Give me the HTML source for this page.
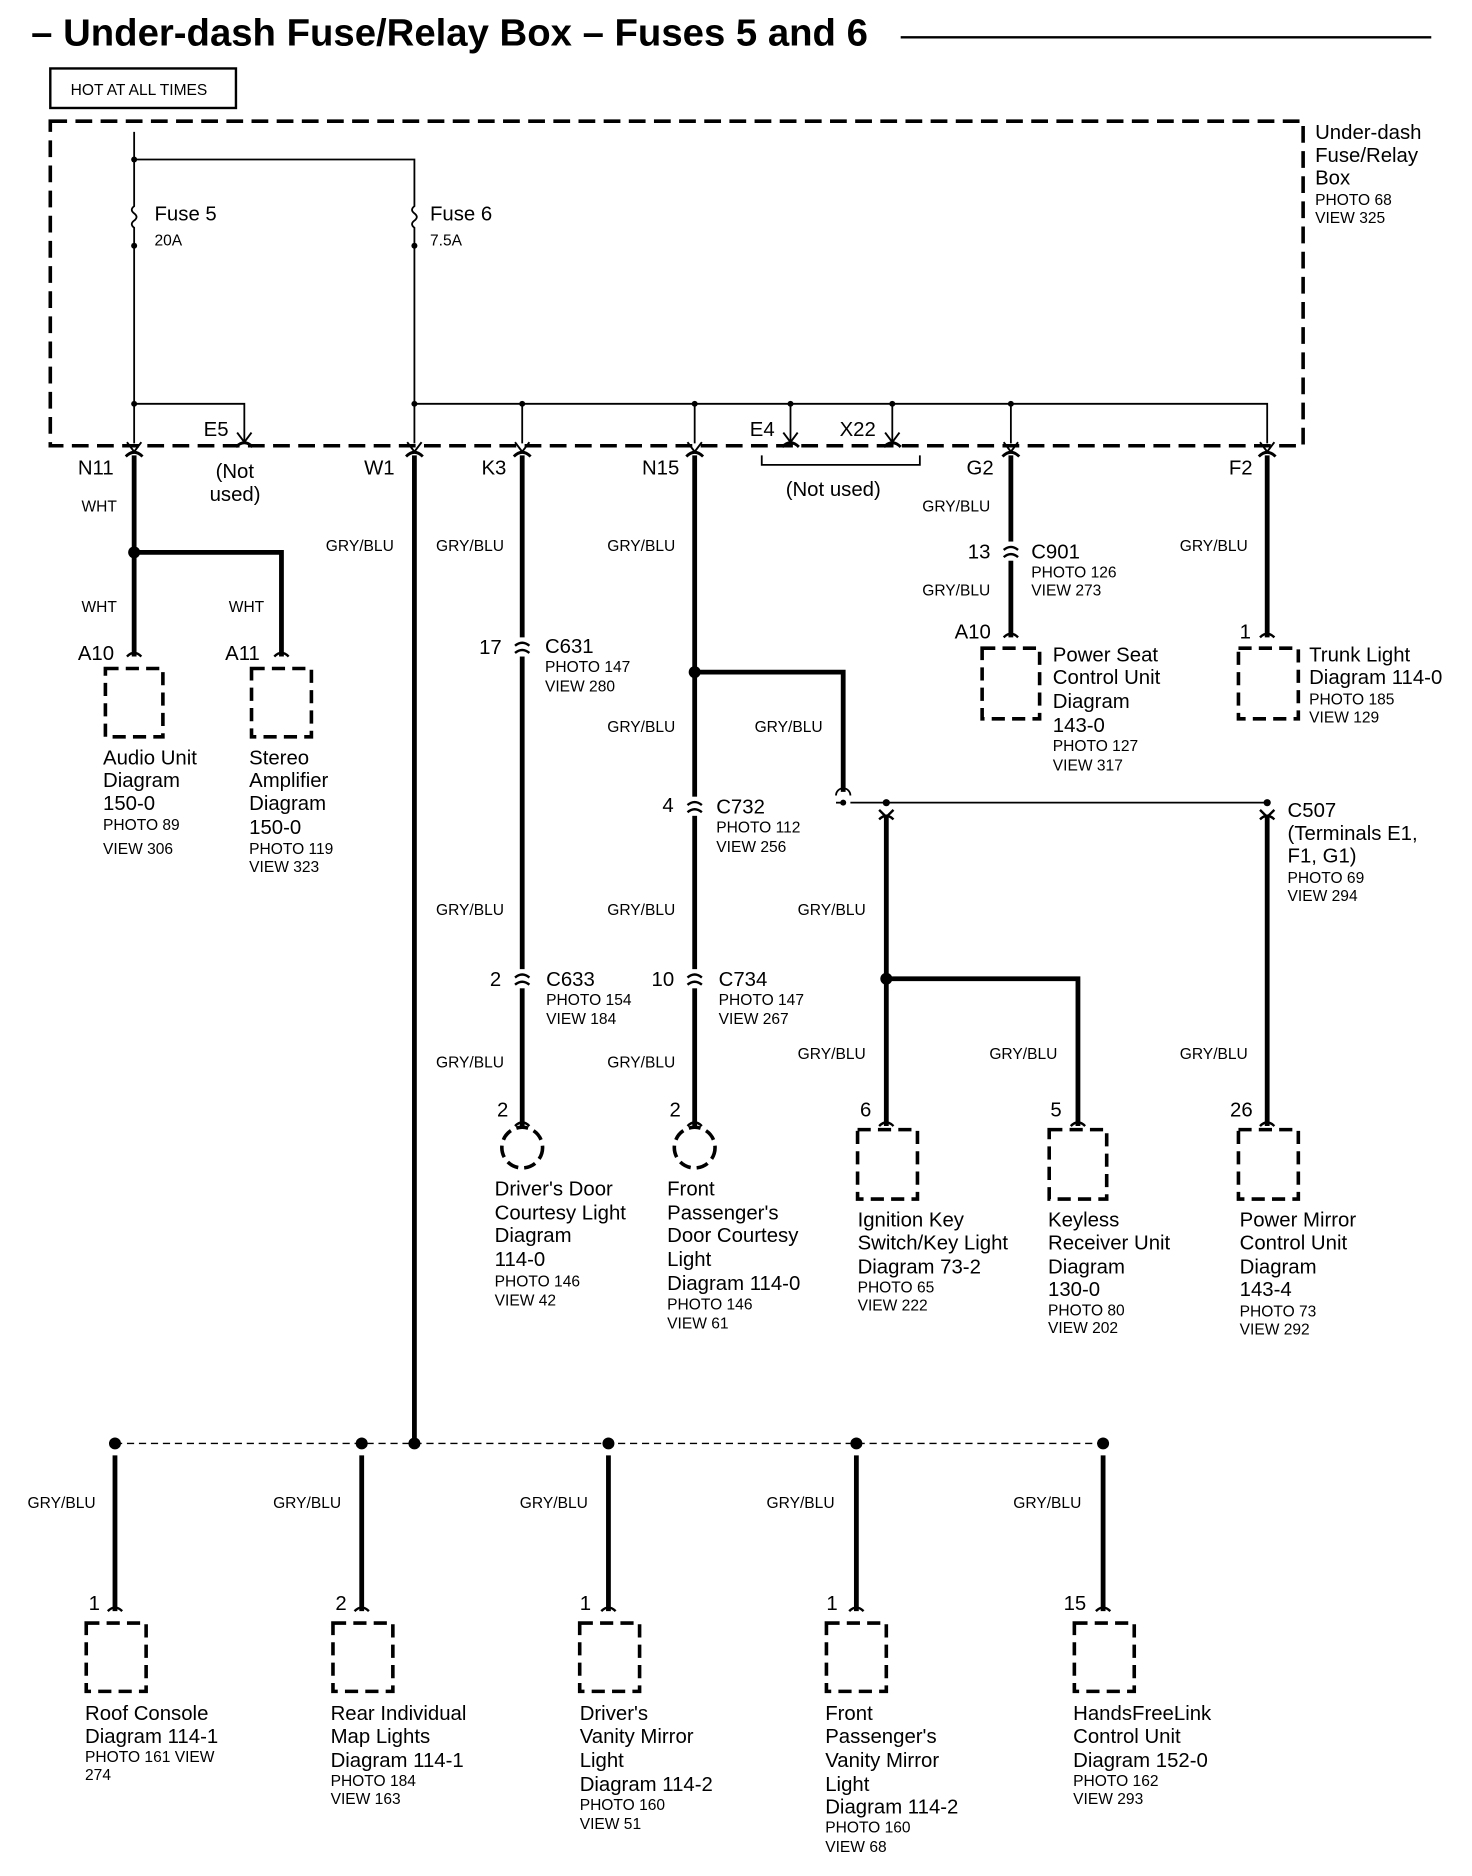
<!DOCTYPE html>
<html><head><meta charset="utf-8"><style>
html,body{margin:0;padding:0;background:#fff;}
svg{display:block}
text{font-family:"Liberation Sans",Arial,sans-serif;fill:#000}
.l{font-size:17px}
.s{font-size:13px}
.w{font-size:13px}
</style></head><body>
<svg width="1472" height="1876" viewBox="0 0 1229 1566" xmlns="http://www.w3.org/2000/svg">
<defs>
<g id="conn"><path d="M-6,-4 Q0,-9 6,-4 M-6,2 Q0,-3 6,2" fill="none" stroke="#000" stroke-width="2"/></g>
<g id="arr"><path d="M-6,-6 L0,2 L6,-6" fill="none" stroke="#000" stroke-width="1.6"/><path d="M-7,6 Q0,-1 7,6" fill="none" stroke="#000" stroke-width="2.4"/></g>
</defs>
<text x="26" y="38" style="font-size:32px;font-weight:bold">– Under-dash Fuse/Relay Box – Fuses 5 and 6</text>
<line x1="752" y1="31" x2="1195" y2="31" stroke="#000" stroke-width="2"/>
<rect x="42" y="57" width="155" height="33" fill="none" stroke="#000" stroke-width="2"/>
<text x="59" y="79" class="s">HOT AT ALL TIMES</text>
<rect x="42" y="101" width="1046" height="271" fill="none" stroke="#000" stroke-width="3" stroke-dasharray="14,7"/>
<text x="1098" y="116" class="l">Under-dash</text>
<text x="1098" y="135" class="l">Fuse/Relay</text>
<text x="1098" y="154" class="l">Box</text>
<text x="1098" y="171" class="s">PHOTO 68</text>
<text x="1098" y="186" class="s">VIEW 325</text>
<g stroke="#000" stroke-width="1.5" fill="none">
<path d="M112,110 V370"/>
<path d="M112,133 H346 V370"/>
<path d="M112,337 H204 V370"/>
<path d="M346,337 H1058 V370"/>
<path d="M436,337 V370 M580,337 V370 M660,337 V370 M745,337 V370 M844,337 V370"/>
<path d="M636,380 V388 H768 V380"/>
</g>
<g fill="#fff" stroke="#000" stroke-width="1.5">
<rect x="106" y="166" width="12" height="40" stroke="none"/>
<rect x="340" y="166" width="12" height="40" stroke="none"/>
</g>
<g stroke="#000" stroke-width="1.5" fill="none">
<path d="M112,166 V172 q-4,3 0,6 q4,3 0,6 q-4,3 0,6 V206"/>
<path d="M346,166 V172 q-4,3 0,6 q4,3 0,6 q-4,3 0,6 V206"/>
</g>
<g fill="#000">
<circle cx="112" cy="133" r="2.5"/><circle cx="112" cy="205" r="2.5"/><circle cx="346" cy="205" r="2.5"/>
<circle cx="112" cy="337" r="2.5"/><circle cx="346" cy="337" r="2.5"/><circle cx="436" cy="337" r="2.5"/>
<circle cx="580" cy="337" r="2.5"/><circle cx="660" cy="337" r="2.5"/><circle cx="745" cy="337" r="2.5"/><circle cx="844" cy="337" r="2.5"/>
</g>
<text x="129" y="184" class="l">Fuse 5</text><text x="129" y="205" class="s">20A</text>
<text x="359" y="184" class="l">Fuse 6</text><text x="359" y="205" class="s">7.5A</text>
<g>
<use href="#arr" x="112" y="375"/><use href="#arr" x="204" y="367"/><use href="#arr" x="346" y="375"/>
<use href="#arr" x="436" y="375"/><use href="#arr" x="580" y="375"/><use href="#arr" x="660" y="367"/>
<use href="#arr" x="745" y="367"/><use href="#arr" x="844" y="375"/><use href="#arr" x="1058" y="375"/>
</g>
<text x="65" y="396" class="l">N11</text>
<text x="170" y="364" class="l">E5</text>
<text x="180" y="399" class="l">(Not</text><text x="175" y="418" class="l">used)</text>
<text x="304" y="396" class="l">W1</text>
<text x="402" y="396" class="l">K3</text>
<text x="536" y="396" class="l">N15</text>
<text x="626" y="364" class="l">E4</text>
<text x="701" y="364" class="l">X22</text>
<text x="656" y="414" class="l">(Not used)</text>
<text x="807" y="396" class="l">G2</text>
<text x="1026" y="396" class="l">F2</text>
<g stroke="#000" stroke-width="4" fill="none">
<path d="M112,380 V548"/><path d="M112,461 H235 V548"/>
<path d="M346,380 V1205"/>
<path d="M436,380 V940"/>
<path d="M580,380 V940"/>
<path d="M580,561 H704 V661"/>
<path d="M740,680 V940"/><path d="M740,817 H900 V940"/>
<path d="M844,380 V532"/>
<path d="M1058,380 V532"/>
<path d="M1058,680 V940"/>
<path d="M96,1215 V1345 M302,1215 V1345 M508,1215 V1345 M715,1215 V1345 M921,1215 V1345"/>
</g>
<path d="M698,664 a6,6 0 0 1 12,0" fill="none" stroke="#000" stroke-width="1.5"/>
<path d="M710,670 H1058" stroke="#000" stroke-width="1.5"/>
<path d="M698,670 H704" stroke="#000" stroke-width="1.5"/>
<path d="M96,1205 H921" stroke="#000" stroke-width="1.2" stroke-dasharray="6,4"/>
<g fill="#000">
<circle cx="112" cy="461" r="5"/><circle cx="580" cy="561" r="5"/><circle cx="740" cy="817" r="5"/>
<circle cx="704" cy="670" r="2.5"/><circle cx="740" cy="670" r="3"/><circle cx="1058" cy="670" r="3"/>
<circle cx="96" cy="1205" r="5"/><circle cx="302" cy="1205" r="5"/><circle cx="346" cy="1205" r="5"/>
<circle cx="508" cy="1205" r="5"/><circle cx="715" cy="1205" r="5"/><circle cx="921" cy="1205" r="5"/>
</g>
<g fill="#fff"><rect x="428" y="532" width="16" height="16"/><rect x="428" y="809" width="16" height="16"/>
<rect x="572" y="665" width="16" height="16"/><rect x="572" y="809" width="16" height="16"/><rect x="836" y="452" width="16" height="16"/></g>
<use href="#conn" x="436" y="543"/><use href="#conn" x="436" y="820"/>
<use href="#conn" x="580" y="676"/><use href="#conn" x="580" y="820"/><use href="#conn" x="844" y="463"/>
<g fill="none" stroke="#000" stroke-width="2">
<path d="M734,676 L740,682 L746,676 M734,684 Q740,678 746,684"/>
<path d="M1052,676 L1058,682 L1064,676 M1052,684 Q1058,678 1064,684"/>
<path d="M106,548 Q112,542 118,548 M229,548 Q235,542 241,548 M838,532 Q844,526 850,532 M1052,532 Q1058,526 1064,532"/>
<path d="M430,940 Q436,934 442,940 M574,940 Q580,934 586,940 M734,940 Q740,934 746,940 M894,940 Q900,934 906,940 M1052,940 Q1058,934 1064,940"/>
<path d="M90,1345 Q96,1339 102,1345 M296,1345 Q302,1339 308,1345 M502,1345 Q508,1339 514,1345 M709,1345 Q715,1339 721,1345 M915,1345 Q921,1339 927,1345"/>
</g>
<g fill="none" stroke="#000" stroke-width="3" stroke-dasharray="11,6">
<rect x="88" y="558" width="48" height="57"/><rect x="210" y="558" width="50" height="57"/>
<rect x="820" y="541" width="48" height="59"/><rect x="1034" y="541" width="50" height="59"/>
<rect x="716" y="943" width="50" height="58"/><rect x="876" y="943" width="48" height="58"/><rect x="1034" y="943" width="50" height="58"/>
<rect x="72" y="1355" width="50" height="57"/><rect x="278" y="1355" width="50" height="57"/><rect x="484" y="1355" width="50" height="57"/>
<rect x="690" y="1355" width="50" height="57"/><rect x="897" y="1355" width="50" height="57"/>
<circle cx="436" cy="958" r="17" stroke-dasharray="10,5"/><circle cx="580" cy="958" r="17" stroke-dasharray="10,5"/>
</g>
<g class="w">
<text x="68" y="427" class="w">WHT</text><text x="68" y="511" class="w">WHT</text><text x="191" y="511" class="w">WHT</text>
<text x="272" y="460" class="w">GRY/BLU</text><text x="364" y="460" class="w">GRY/BLU</text><text x="507" y="460" class="w">GRY/BLU</text>
<text x="770" y="427" class="w">GRY/BLU</text><text x="770" y="497" class="w">GRY/BLU</text><text x="985" y="460" class="w">GRY/BLU</text>
<text x="507" y="611" class="w">GRY/BLU</text><text x="630" y="611" class="w">GRY/BLU</text>
<text x="364" y="764" class="w">GRY/BLU</text><text x="507" y="764" class="w">GRY/BLU</text><text x="666" y="764" class="w">GRY/BLU</text>
<text x="364" y="891" class="w">GRY/BLU</text><text x="507" y="891" class="w">GRY/BLU</text><text x="666" y="884" class="w">GRY/BLU</text>
<text x="826" y="884" class="w">GRY/BLU</text><text x="985" y="884" class="w">GRY/BLU</text>
<text x="23" y="1259" class="w">GRY/BLU</text><text x="228" y="1259" class="w">GRY/BLU</text><text x="434" y="1259" class="w">GRY/BLU</text>
<text x="640" y="1259" class="w">GRY/BLU</text><text x="846" y="1259" class="w">GRY/BLU</text>
</g>
<text x="65" y="551" class="l">A10</text><text x="188" y="551" class="l">A11</text>
<text x="400" y="546" class="l">17</text><text x="455" y="545" class="l">C631</text><text x="455" y="561" class="s">PHOTO 147</text><text x="455" y="577" class="s">VIEW 280</text>
<text x="553" y="678" class="l">4</text><text x="598" y="679" class="l">C732</text><text x="598" y="695" class="s">PHOTO 112</text><text x="598" y="711" class="s">VIEW 256</text>
<text x="409" y="823" class="l">2</text><text x="456" y="823" class="l">C633</text><text x="456" y="839" class="s">PHOTO 154</text><text x="456" y="855" class="s">VIEW 184</text>
<text x="544" y="823" class="l">10</text><text x="600" y="823" class="l">C734</text><text x="600" y="839" class="s">PHOTO 147</text><text x="600" y="855" class="s">VIEW 267</text>
<text x="808" y="466" class="l">13</text><text x="861" y="466" class="l">C901</text><text x="861" y="482" class="s">PHOTO 126</text><text x="861" y="497" class="s">VIEW 273</text>
<text x="797" y="533" class="l">A10</text><text x="1035" y="533" class="l">1</text>
<text x="1075" y="682" class="l">C507</text><text x="1075" y="701" class="l">(Terminals E1,</text><text x="1075" y="720" class="l">F1, G1)</text>
<text x="1075" y="737" class="s">PHOTO 69</text><text x="1075" y="752" class="s">VIEW 294</text>
<text x="415" y="932" class="l">2</text><text x="559" y="932" class="l">2</text><text x="718" y="932" class="l">6</text><text x="877" y="932" class="l">5</text><text x="1027" y="932" class="l">26</text>
<text x="74" y="1344" class="l">1</text><text x="280" y="1344" class="l">2</text><text x="484" y="1344" class="l">1</text><text x="690" y="1344" class="l">1</text><text x="888" y="1344" class="l">15</text>
<text x="86" y="638" class="l">Audio Unit</text><text x="86" y="657" class="l">Diagram</text><text x="86" y="676" class="l">150-0</text><text x="86" y="693" class="s">PHOTO 89</text><text x="86" y="713" class="s">VIEW 306</text>
<text x="208" y="638" class="l">Stereo</text><text x="208" y="657" class="l">Amplifier</text><text x="208" y="676" class="l">Diagram</text><text x="208" y="696" class="l">150-0</text><text x="208" y="713" class="s">PHOTO 119</text><text x="208" y="728" class="s">VIEW 323</text>
<text x="879" y="552" class="l">Power Seat</text><text x="879" y="571" class="l">Control Unit</text><text x="879" y="591" class="l">Diagram</text><text x="879" y="611" class="l">143-0</text><text x="879" y="627" class="s">PHOTO 127</text><text x="879" y="643" class="s">VIEW 317</text>
<text x="1093" y="552" class="l">Trunk Light</text><text x="1093" y="571" class="l">Diagram 114-0</text><text x="1093" y="588" class="s">PHOTO 185</text><text x="1093" y="603" class="s">VIEW 129</text>
<text x="413" y="998" class="l">Driver's   Door</text><text x="413" y="1018" class="l">Courtesy Light</text><text x="413" y="1037" class="l">Diagram</text><text x="413" y="1057" class="l">114-0</text><text x="413" y="1074" class="s">PHOTO 146</text><text x="413" y="1090" class="s">VIEW 42</text>
<text x="557" y="998" class="l">Front</text><text x="557" y="1018" class="l">Passenger's</text><text x="557" y="1037" class="l">Door Courtesy</text><text x="557" y="1057" class="l">Light</text><text x="557" y="1077" class="l">Diagram 114-0</text><text x="557" y="1093" class="s">PHOTO 146</text><text x="557" y="1109" class="s">VIEW 61</text>
<text x="716" y="1024" class="l">Ignition Key</text><text x="716" y="1043" class="l">Switch/Key Light</text><text x="716" y="1063" class="l">Diagram 73-2</text><text x="716" y="1079" class="s">PHOTO 65</text><text x="716" y="1094" class="s">VIEW 222</text>
<text x="875" y="1024" class="l">Keyless</text><text x="875" y="1043" class="l">Receiver Unit</text><text x="875" y="1063" class="l">Diagram</text><text x="875" y="1082" class="l">130-0</text><text x="875" y="1098" class="s">PHOTO 80</text><text x="875" y="1113" class="s">VIEW 202</text>
<text x="1035" y="1024" class="l">Power Mirror</text><text x="1035" y="1043" class="l">Control  Unit</text><text x="1035" y="1063" class="l">Diagram</text><text x="1035" y="1082" class="l">143-4</text><text x="1035" y="1099" class="s">PHOTO 73</text><text x="1035" y="1114" class="s">VIEW 292</text>
<text x="71" y="1436" class="l">Roof Console</text><text x="71" y="1455" class="l">Diagram 114-1</text><text x="71" y="1471" class="s">PHOTO 161 VIEW</text><text x="71" y="1486" class="s">274</text>
<text x="276" y="1436" class="l">Rear Individual</text><text x="276" y="1455" class="l">Map Lights</text><text x="276" y="1475" class="l">Diagram 114-1</text><text x="276" y="1491" class="s">PHOTO 184</text><text x="276" y="1506" class="s">VIEW 163</text>
<text x="484" y="1436" class="l">Driver's</text><text x="484" y="1455" class="l">Vanity Mirror</text><text x="484" y="1475" class="l">Light</text><text x="484" y="1495" class="l">Diagram 114-2</text><text x="484" y="1511" class="s">PHOTO 160</text><text x="484" y="1527" class="s">VIEW 51</text>
<text x="689" y="1436" class="l">Front</text><text x="689" y="1455" class="l">Passenger's</text><text x="689" y="1475" class="l">Vanity Mirror</text><text x="689" y="1495" class="l">Light</text><text x="689" y="1514" class="l">Diagram 114-2</text><text x="689" y="1530" class="s">PHOTO 160</text><text x="689" y="1546" class="s">VIEW 68</text>
<text x="896" y="1436" class="l">HandsFreeLink</text><text x="896" y="1455" class="l">Control Unit</text><text x="896" y="1475" class="l">Diagram 152-0</text><text x="896" y="1491" class="s">PHOTO 162</text><text x="896" y="1506" class="s">VIEW 293</text>
</svg>
</body></html>
